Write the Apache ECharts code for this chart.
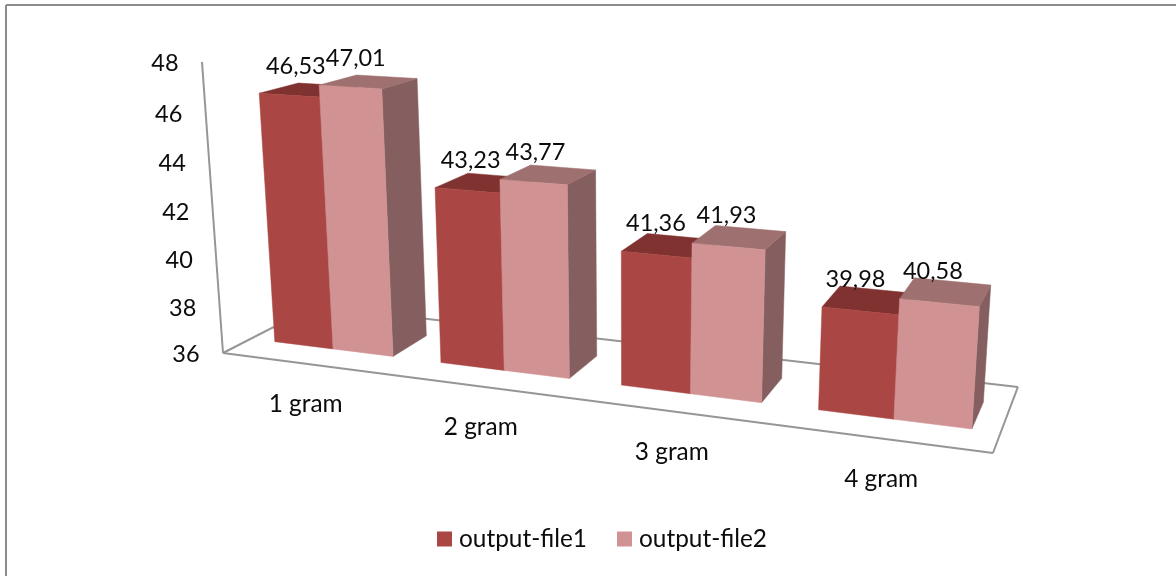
<!DOCTYPE html>
<html>
<head>
<meta charset="utf-8">
<style>html,body{margin:0;padding:0;background:#fff}#chart{width:1176px;height:576px}</style>
<script src="https://cdn.jsdelivr.net/npm/echarts@6/dist/echarts.min.js"></script>
</head>
<body>
<div id="chart"></div>
<script>
// Category labels, value ticks and the two measured series
const categories = ['1 gram', '2 gram', '3 gram', '4 gram'];
const valueTicks = [36, 38, 40, 42, 44, 46, 48];
const outputFile1 = [46.53, 43.23, 41.36, 39.98];
const outputFile2 = [47.01, 43.77, 41.93, 40.58];

const FONT = 'Lato';
const NUMBER_SIZE = 23.5;
const WORD_SIZE = 24.4;
const TEXT_COLOR = '#0c0c0c';
const EDGE_COLOR = '#969696';

// Projective map of the chart box: u runs along the categories, v up the
// value range and w into the depth of the floor, all from 0 to 1.
const CAMERA = {
  x: [607.3, -30.9, 123.8, 223],
  y: [25.8, -294.0, -16.1, 353],
  z: [-0.1638, -0.049, 0.1011, 1]
};
function project(u, v, w) {
  const row = r => r[0] * u + r[1] * v + r[2] * w + r[3];
  const d = row(CAMERA.z);
  return [row(CAMERA.x) / d, row(CAMERA.y) / d];
}

// Plot-area pixels from the hidden axes become u and v for the map above
function toUnit(params, pt) {
  const box = params.coordSys;
  return [(pt[0] - box.x) / box.width, (box.y + box.height - pt[1]) / box.height];
}

const FRONT = 0.285, BACK = 0.695;

function polygon(points, fill) {
  return { type: 'polygon', shape: { points }, style: { fill, stroke: fill, lineWidth: 0.5 } };
}

function textEl(str, at, size) {
  return {
    type: 'text', z2: 10,
    style: { text: str, x: at[0], y: at[1], align: 'center', verticalAlign: 'middle',
             font: size + 'px ' + FONT, fill: TEXT_COLOR }
  };
}

// One cuboid per value: front, top and right faces plus its value label.
function barRenderer(startFrac, endFrac, colors) {
  return function (params, api) {
    const cat = api.value(0), value = api.value(1);
    const base = toUnit(params, api.coord([cat, valueTicks[0]]));
    const top = toUnit(params, api.coord([cat, value]));
    const band = api.size([1, 0])[0] / params.coordSys.width;
    const u0 = base[0] + band * startFrac, u1 = base[0] + band * endFrac;
    const v0 = base[1], v1 = top[1];
    const mid = project((u0 + u1) / 2, v1, 0.49);
    return {
      type: 'group',
      children: [
        polygon([project(u1, v0, FRONT), project(u1, v0, BACK), project(u1, v1, BACK), project(u1, v1, FRONT)], colors.side),
        polygon([project(u0, v1, FRONT), project(u1, v1, FRONT), project(u1, v1, BACK), project(u0, v1, BACK)], colors.top),
        polygon([project(u0, v0, FRONT), project(u1, v0, FRONT), project(u1, v1, FRONT), project(u0, v1, FRONT)], colors.front),
        textEl(value.toFixed(2).replace('.', ','), [mid[0] - 13, mid[1] - 24 + 4 * u0], NUMBER_SIZE)
      ]
    };
  };
}

// Floor outline, slanted value axis and the tick and category text
function renderFrame(params, api) {
  const line = (a, b) => ({
    type: 'line',
    shape: { x1: a[0], y1: a[1], x2: b[0], y2: b[1] },
    style: { stroke: EDGE_COLOR, lineWidth: 2 }
  });
  const children = [
    line(project(0, 0, 0), project(0, 1, 0)),
    line(project(0, 0, 0), project(1, 0, 0)),
    line(project(1, 0, 0), project(1, 0, 1)),
    line(project(1, 0, 1), project(0, 0, 1)),
    line(project(0, 0, 1), project(0, 0, 0))
  ];
  valueTicks.forEach(tick => {
    const p = toUnit(params, api.coord([0, tick]));
    const at = project(0, p[1], 0);
    children.push(textEl(String(tick), [at[0] - 37, at[1] + 1.5], NUMBER_SIZE));
  });
  categories.forEach((name, i) => {
    const p = toUnit(params, api.coord([i, valueTicks[0]]));
    const at = project(p[0], 0, 0);
    children.push(textEl(name, [at[0] + 0.5, at[1] + 40.5], WORD_SIZE));
  });
  return { type: 'group', children };
}

const chart = echarts.init(document.getElementById('chart'), null, { renderer: 'canvas' });
chart.setOption({
  animation: false,
  backgroundColor: '#fff',
  graphic: [
    { type: 'line', shape: { x1: 6, y1: 5, x2: 1176, y2: 5 }, style: { stroke: '#8c8c8c', lineWidth: 2 } },
    { type: 'line', shape: { x1: 6, y1: 5, x2: 6, y2: 576 }, style: { stroke: '#8c8c8c', lineWidth: 2 } }
  ],
  legend: {
    data: ['output-file1', 'output-file2'],
    left: 437, top: 527, padding: 0,
    icon: 'rect', itemWidth: 15, itemHeight: 15, itemGap: 30,
    textStyle: { fontFamily: FONT, fontSize: WORD_SIZE, color: TEXT_COLOR, padding: [0, 0, 0, 2] }
  },
  grid: { left: 0, right: 0, top: 0, bottom: 0 },
  xAxis: { type: 'category', data: categories, show: false },
  yAxis: { type: 'value', min: valueTicks[0], max: valueTicks[valueTicks.length - 1], show: false },
  series: [
    { type: 'custom', name: 'frame', silent: true, renderItem: renderFrame, data: [[0, 36]], encode: { x: 0, y: 1 } },
    {
      type: 'custom', name: 'output-file1', itemStyle: { color: '#AA4643' },
      renderItem: barRenderer(-0.35, 0.01, { front: '#AA4643', top: '#803230', side: '#803230' }),
      data: outputFile1.map((v, i) => [i, v]), encode: { x: 0, y: 1 }
    },
    {
      type: 'custom', name: 'output-file2', itemStyle: { color: '#D09292' },
      renderItem: barRenderer(0.01, 0.37, { front: '#D09292', top: '#9F7070', side: '#855F5F' }),
      data: outputFile2.map((v, i) => [i, v]), encode: { x: 0, y: 1 }
    }
  ]
});
</script>
</body>
</html>
